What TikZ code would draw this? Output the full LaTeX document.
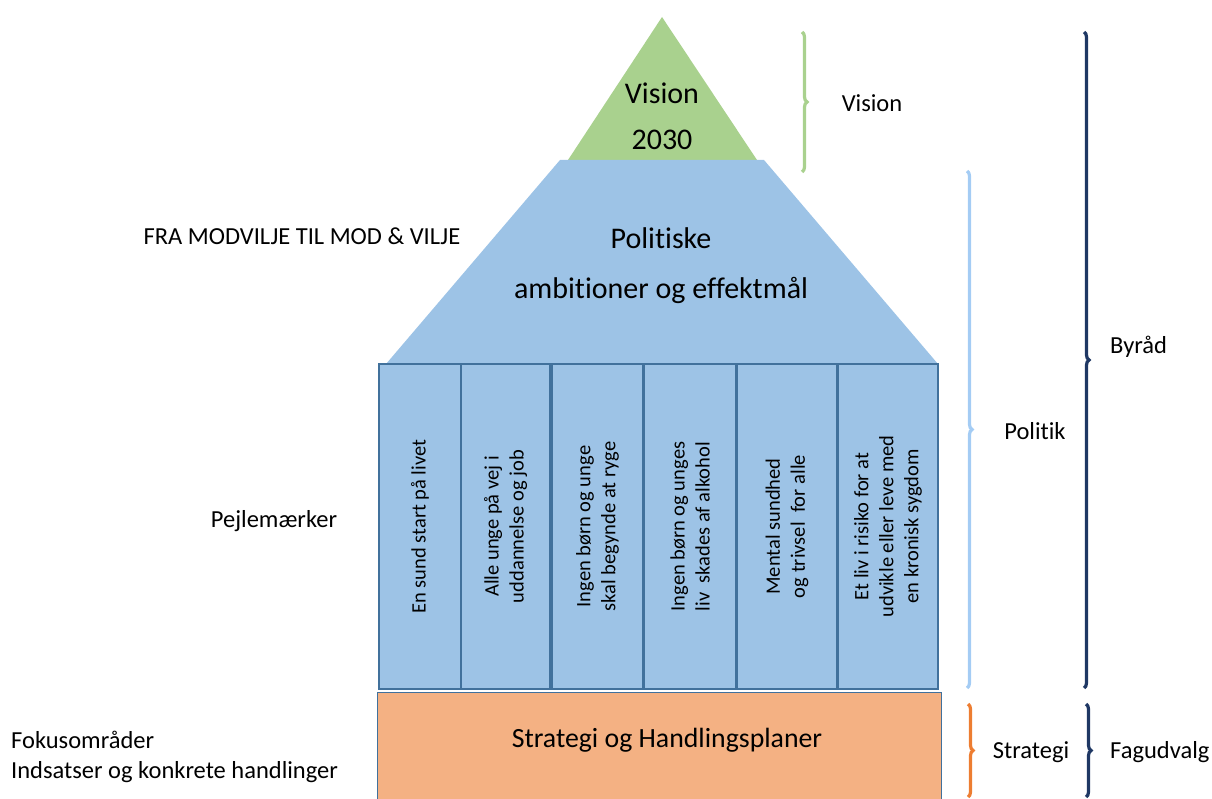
\documentclass[tikz,border=0pt]{standalone}
\usepackage{fontspec}
\setmainfont[Ligatures={NoCommon,NoContextual}]{Carlito}
\usepackage{tikz}
\usetikzlibrary{positioning, decorations.pathreplacing}
\definecolor{VisionGreen}{HTML}{A9D18E}
\definecolor{PolitikBlue}{HTML}{9DC3E6}
\definecolor{PillarEdge}{HTML}{41719C}
\definecolor{StrategiOrange}{HTML}{F4B183}
\definecolor{BracketOrange}{HTML}{ED7D31}
\definecolor{BracketBlue}{HTML}{A4CCF4}
\definecolor{ByraadNavy}{HTML}{1F3864}
\newcommand{\fsz}[2]{\fontsize{#1}{#2}\selectfont}

\begin{document}
\begin{tikzpicture}[x=1pt, y=-1pt,
  pillar/.style={draw=PillarEdge, line width=1.2pt, fill=PolitikBlue, rotate=90,
                 align=center, font=\fsz{20.5}{25}, inner sep=0pt},
  sidelabel/.style={font=\fsz{24.5}{30}, inner sep=0pt},
  bracket/.style={decorate, decoration={brace, amplitude=5pt}, line width=3.2pt}]
\useasboundingbox (0,0) rectangle (1212,799);

% roof
\fill[VisionGreen] (662,17) -- (757,160) -- (568,160) -- cycle;
\fill[PolitikBlue] (560,160) -- (764,160) -- (938,364) -- (386,364) -- cycle;
\node[align=center, font=\fsz{30}{46}] (vision) at (662,116) {Vision\\2030};
\node[align=center, font=\fsz{30}{50}] (ambition) at (661,266) {Politiske\\ambitioner og effektmål};

% pillars
\foreach \n/\xa/\xb/\txt in {1/379/461/{En sund start på livet},
    2/461/550/{Alle unge på vej i\\uddannelse og job},
    3/552/643/{Ingen børn og unge\\skal begynde at ryge},
    4/644/736/{Ingen børn og unges\\liv~ skades af alkohol},
    5/737/837/{Mental sundhed\\og trivsel~ for alle},
    6/838/938/{Et liv i risiko for at\\udvikle eller leve med\\en kronisk sygdom}}
  \node[pillar, minimum width=325pt, minimum height=\xb pt-\xa pt] (p\n) at ({(\xa+\xb)/2},526.5) {\txt};

% base
\node[draw=PillarEdge, line width=0.8pt, fill=StrategiOrange, minimum width=564pt,
      minimum height=110pt, inner sep=0pt] (base) at (659,747) {};
\node[font=\fsz{27.8}{33}] (strategi) at (667,740) {Strategi og Handlingsplaner};

% left labels
\node[sidelabel] (fra) at (302,236) {FRA MODVILJE TIL MOD \& VILJE};
\node[sidelabel] (pejle) at (274,521) {Pejlemærker};
\node[sidelabel, align=left, anchor=west] (fokus) at (11,757) {Fokusområder\\Indsatser og konkrete handlinger};

% brackets
\draw[bracket, VisionGreen] (802,32) -- (802,172);
\draw[bracket, BracketBlue] (967,171) -- (967,688);
\draw[bracket, ByraadNavy] (1084,32) -- (1084,688);
\draw[bracket, BracketOrange] (968,704) -- (968,797);
\draw[bracket, ByraadNavy] (1086,704) -- (1086,797);

% right labels
\node[sidelabel] (lvision) at (872,103) {Vision};
\node[sidelabel] (lpolitik) at (1035,431) {Politik};
\node[sidelabel, anchor=west] (lbyraad) at (1110,347) {Byråd};
\node[sidelabel] (lstrategi) at (1031,752) {Strategi};
\node[sidelabel, anchor=west] (lfag) at (1110,752) {Fagudvalg};
\end{tikzpicture}
\end{document}
